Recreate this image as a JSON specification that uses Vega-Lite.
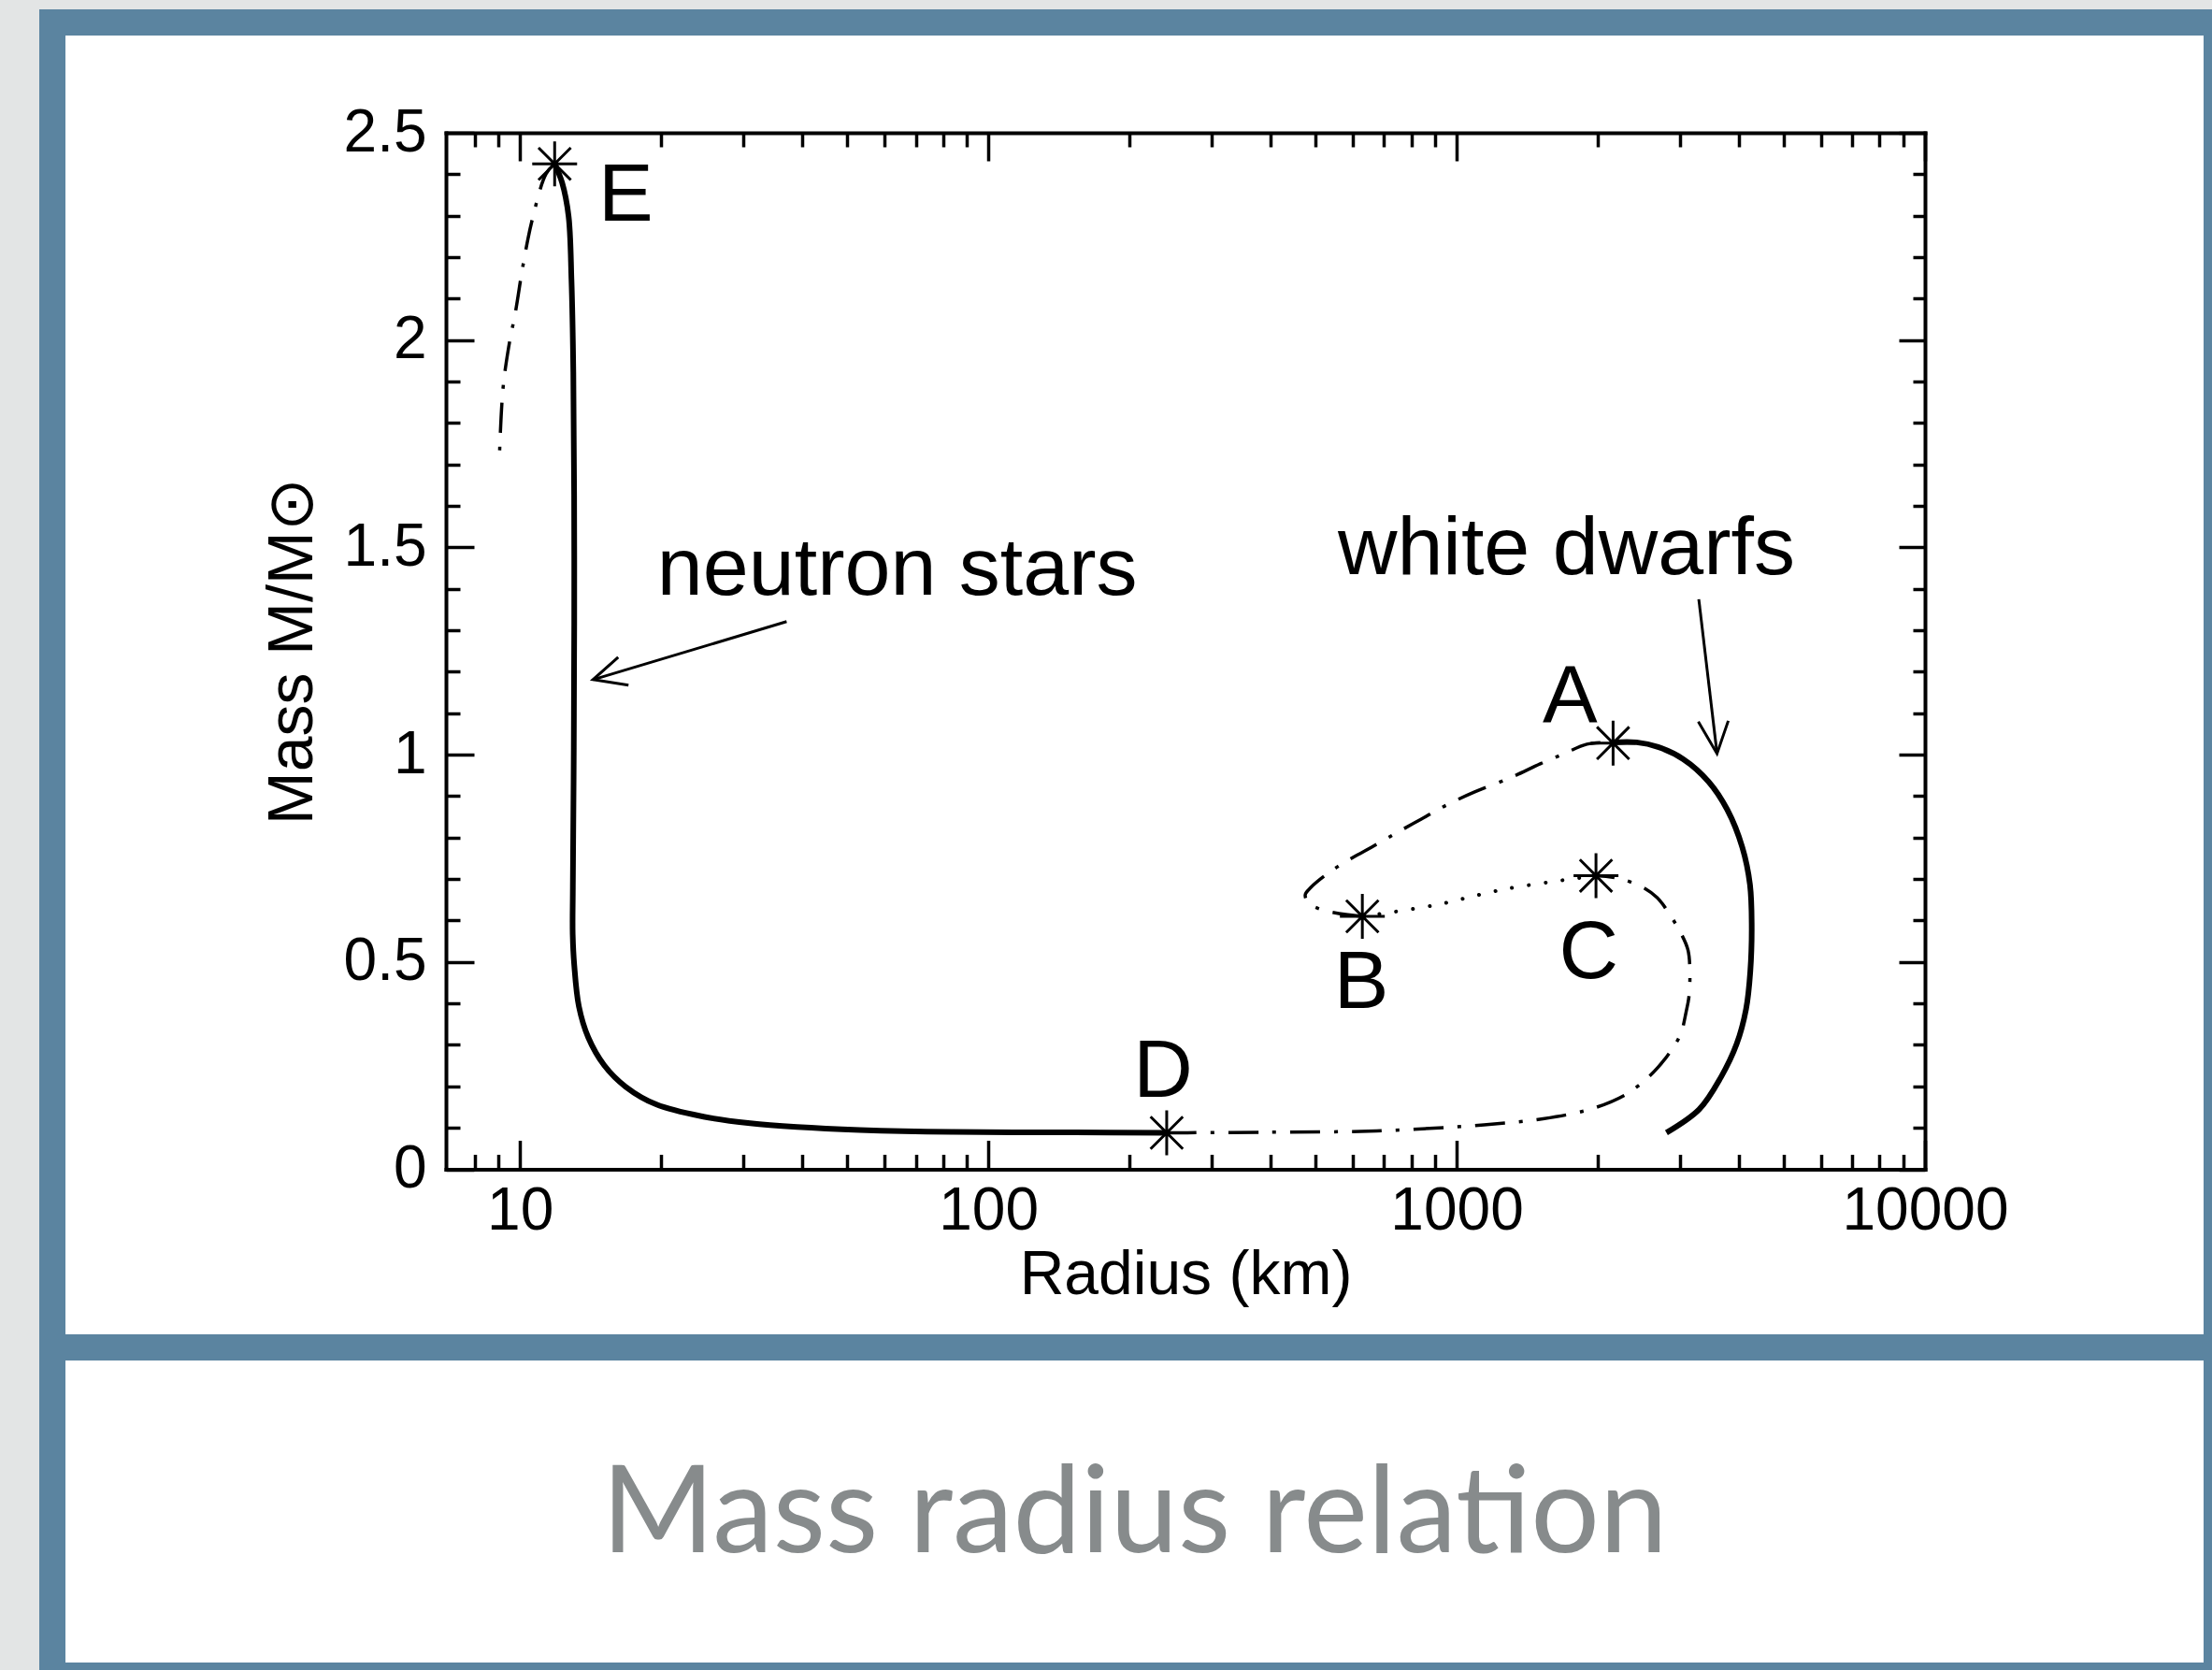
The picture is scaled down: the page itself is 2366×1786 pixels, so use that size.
{
  "$schema": "https://vega.github.io/schema/vega-lite/v6.json",
  "background": "#e3e5e5",
  "padding": {"left": 42, "top": 10, "right": -19, "bottom": -20},
  "autosize": {"type": "pad"},
  "bounds": "flush",
  "spacing": 0,
  "config": {
    "view": {"fill": "white", "stroke": "#5b84a0", "strokeWidth": 28},
    "axis": {"grid": false}
  },
  "datasets": {
    "curve": [
      {"seg": "e1", "kind": "unstable", "i": 0, "R": 11.86, "M": 2.425},
      {"seg": "e1", "kind": "unstable", "i": 1, "R": 11.37, "M": 2.401},
      {"seg": "e1", "kind": "unstable", "i": 2, "R": 10.62, "M": 2.29},
      {"seg": "e1", "kind": "unstable", "i": 3, "R": 10.14, "M": 2.177},
      {"seg": "e1", "kind": "unstable", "i": 4, "R": 9.8, "M": 2.073},
      {"seg": "e1", "kind": "unstable", "i": 5, "R": 9.46, "M": 1.983},
      {"seg": "e1", "kind": "unstable", "i": 6, "R": 9.2, "M": 1.883},
      {"seg": "e1", "kind": "unstable", "i": 7, "R": 9.05, "M": 1.734},
      {"seg": "ns", "kind": "stable", "i": 0, "R": 11.86, "M": 2.425},
      {"seg": "ns", "kind": "stable", "i": 1, "R": 12.3, "M": 2.38},
      {"seg": "ns", "kind": "stable", "i": 2, "R": 12.7, "M": 2.299},
      {"seg": "ns", "kind": "stable", "i": 3, "R": 12.88, "M": 2.148},
      {"seg": "ns", "kind": "stable", "i": 4, "R": 13.0, "M": 1.922},
      {"seg": "ns", "kind": "stable", "i": 5, "R": 13.06, "M": 1.47},
      {"seg": "ns", "kind": "stable", "i": 6, "R": 13.03, "M": 1.018},
      {"seg": "ns", "kind": "stable", "i": 7, "R": 12.97, "M": 0.68},
      {"seg": "ns", "kind": "stable", "i": 8, "R": 12.96, "M": 0.567},
      {"seg": "ns", "kind": "stable", "i": 9, "R": 13.06, "M": 0.492},
      {"seg": "ns", "kind": "stable", "i": 10, "R": 13.36, "M": 0.393},
      {"seg": "ns", "kind": "stable", "i": 11, "R": 13.99, "M": 0.318},
      {"seg": "ns", "kind": "stable", "i": 12, "R": 15.13, "M": 0.251},
      {"seg": "ns", "kind": "stable", "i": 13, "R": 16.82, "M": 0.199},
      {"seg": "ns", "kind": "stable", "i": 14, "R": 19.58, "M": 0.156},
      {"seg": "ns", "kind": "stable", "i": 15, "R": 24.65, "M": 0.127},
      {"seg": "ns", "kind": "stable", "i": 16, "R": 31.01, "M": 0.111},
      {"seg": "ns", "kind": "stable", "i": 17, "R": 39.04, "M": 0.102},
      {"seg": "ns", "kind": "stable", "i": 18, "R": 53.15, "M": 0.095},
      {"seg": "ns", "kind": "stable", "i": 19, "R": 84.2, "M": 0.09},
      {"seg": "ns", "kind": "stable", "i": 20, "R": 153.1, "M": 0.089},
      {"seg": "ns", "kind": "stable", "i": 21, "R": 240.4, "M": 0.088},
      {"seg": "dc", "kind": "unstable", "i": 0, "R": 240.4, "M": 0.088},
      {"seg": "dc", "kind": "unstable", "i": 1, "R": 384.3, "M": 0.0892},
      {"seg": "dc", "kind": "unstable", "i": 2, "R": 673.8, "M": 0.0926},
      {"seg": "dc", "kind": "unstable", "i": 3, "R": 1144, "M": 0.1073},
      {"seg": "dc", "kind": "unstable", "i": 4, "R": 1529, "M": 0.1219},
      {"seg": "dc", "kind": "unstable", "i": 5, "R": 1924, "M": 0.1445},
      {"seg": "dc", "kind": "unstable", "i": 6, "R": 2281, "M": 0.1784},
      {"seg": "dc", "kind": "unstable", "i": 7, "R": 2536, "M": 0.2168},
      {"seg": "dc", "kind": "unstable", "i": 8, "R": 2692, "M": 0.2462},
      {"seg": "dc", "kind": "unstable", "i": 9, "R": 2844, "M": 0.28},
      {"seg": "dc", "kind": "unstable", "i": 10, "R": 3006, "M": 0.3252},
      {"seg": "dc", "kind": "unstable", "i": 11, "R": 3090, "M": 0.3794},
      {"seg": "dc", "kind": "unstable", "i": 12, "R": 3133, "M": 0.4155},
      {"seg": "dc", "kind": "unstable", "i": 13, "R": 3148, "M": 0.4765},
      {"seg": "dc", "kind": "unstable", "i": 14, "R": 3119, "M": 0.5285},
      {"seg": "dc", "kind": "unstable", "i": 15, "R": 3020, "M": 0.5669},
      {"seg": "dc", "kind": "unstable", "i": 16, "R": 2818, "M": 0.6233},
      {"seg": "dc", "kind": "unstable", "i": 17, "R": 2680, "M": 0.6549},
      {"seg": "dc", "kind": "unstable", "i": 18, "R": 2501, "M": 0.6798},
      {"seg": "dc", "kind": "unstable", "i": 19, "R": 2209, "M": 0.7023},
      {"seg": "dc", "kind": "unstable", "i": 20, "R": 1984, "M": 0.708},
      {"seg": "cb", "kind": "metastable", "i": 0, "R": 1984, "M": 0.708},
      {"seg": "cb", "kind": "metastable", "i": 1, "R": 1272, "M": 0.676},
      {"seg": "cb", "kind": "metastable", "i": 2, "R": 892, "M": 0.6364},
      {"seg": "cb", "kind": "metastable", "i": 3, "R": 629, "M": 0.61},
      {"seg": "ba", "kind": "unstable", "i": 0, "R": 629, "M": 0.61},
      {"seg": "ba", "kind": "unstable", "i": 1, "R": 525.7, "M": 0.6233},
      {"seg": "ba", "kind": "unstable", "i": 2, "R": 483.8, "M": 0.6414},
      {"seg": "ba", "kind": "unstable", "i": 3, "R": 475.0, "M": 0.6617},
      {"seg": "ba", "kind": "unstable", "i": 4, "R": 488.4, "M": 0.6798},
      {"seg": "ba", "kind": "unstable", "i": 5, "R": 537.9, "M": 0.7182},
      {"seg": "ba", "kind": "unstable", "i": 6, "R": 600.6, "M": 0.752},
      {"seg": "ba", "kind": "unstable", "i": 7, "R": 658.5, "M": 0.7769},
      {"seg": "ba", "kind": "unstable", "i": 8, "R": 742.3, "M": 0.8108},
      {"seg": "ba", "kind": "unstable", "i": 9, "R": 840.5, "M": 0.8446},
      {"seg": "ba", "kind": "unstable", "i": 10, "R": 951.5, "M": 0.8785},
      {"seg": "ba", "kind": "unstable", "i": 11, "R": 1093, "M": 0.9101},
      {"seg": "ba", "kind": "unstable", "i": 12, "R": 1313, "M": 0.9462},
      {"seg": "ba", "kind": "unstable", "i": 13, "R": 1508, "M": 0.9779},
      {"seg": "ba", "kind": "unstable", "i": 14, "R": 1699, "M": 1.0027},
      {"seg": "ba", "kind": "unstable", "i": 15, "R": 1897, "M": 1.0253},
      {"seg": "ba", "kind": "unstable", "i": 16, "R": 2158, "M": 1.0298},
      {"seg": "wd", "kind": "stable", "i": 0, "R": 2158, "M": 1.0298},
      {"seg": "wd", "kind": "stable", "i": 1, "R": 2422, "M": 1.0298},
      {"seg": "wd", "kind": "stable", "i": 2, "R": 2692, "M": 1.0185},
      {"seg": "wd", "kind": "stable", "i": 3, "R": 3048, "M": 0.9892},
      {"seg": "wd", "kind": "stable", "i": 4, "R": 3451, "M": 0.935},
      {"seg": "wd", "kind": "stable", "i": 5, "R": 3784, "M": 0.8672},
      {"seg": "wd", "kind": "stable", "i": 6, "R": 4073, "M": 0.7769},
      {"seg": "wd", "kind": "stable", "i": 7, "R": 4230, "M": 0.6865},
      {"seg": "wd", "kind": "stable", "i": 8, "R": 4266, "M": 0.5894},
      {"seg": "wd", "kind": "stable", "i": 9, "R": 4236, "M": 0.4765},
      {"seg": "wd", "kind": "stable", "i": 10, "R": 4149, "M": 0.3862},
      {"seg": "wd", "kind": "stable", "i": 11, "R": 3963, "M": 0.3026},
      {"seg": "wd", "kind": "stable", "i": 12, "R": 3664, "M": 0.2213},
      {"seg": "wd", "kind": "stable", "i": 13, "R": 3296, "M": 0.1445},
      {"seg": "wd", "kind": "stable", "i": 14, "R": 2805, "M": 0.0881}
    ],
    "stars": [
      {"point": "A", "R": 2158, "M": 1.028},
      {"point": "B", "R": 629, "M": 0.61},
      {"point": "C", "R": 1984, "M": 0.708},
      {"point": "D", "R": 240.4, "M": 0.088},
      {"point": "E", "R": 11.86, "M": 2.425}
    ],
    "labels": [
      {"label": "E", "R": 16.82, "M": 2.288},
      {"label": "D", "R": 236, "M": 0.1755},
      {"label": "A", "R": 1747, "M": 1.077},
      {"label": "B", "R": 626, "M": 0.39},
      {"label": "C", "R": 1915, "M": 0.461},
      {"label": "neutron stars", "R": 63.9, "M": 1.387},
      {"label": "white dwarfs", "R": 1715, "M": 1.436}
    ],
    "arrows": [
      {"piece": "ns_shaft", "i": 0, "R": 37.1, "M": 1.321},
      {"piece": "ns_shaft", "i": 1, "R": 14.32, "M": 1.181},
      {"piece": "ns_head", "i": 0, "R": 16.21, "M": 1.2353},
      {"piece": "ns_head", "i": 1, "R": 14.32, "M": 1.181},
      {"piece": "ns_head", "i": 2, "R": 17.05, "M": 1.1676},
      {"piece": "wd_shaft", "i": 0, "R": 3289, "M": 1.375},
      {"piece": "wd_shaft", "i": 1, "R": 3597, "M": 1.003},
      {"piece": "wd_head", "i": 0, "R": 3281, "M": 1.0795},
      {"piece": "wd_head", "i": 1, "R": 3597, "M": 1.0027},
      {"piece": "wd_head", "i": 2, "R": 3802, "M": 1.0817}
    ],
    "caption": [{"caption": "Mass radius relation"}]
  },
  "vconcat": [
    {
      "width": 2315,
      "height": 1417,
      "resolve": {"axis": {"x": "independent", "y": "independent"}},
      "layer": [
        {
          "data": {"name": "curve"},
          "transform": [{"filter": "datum.kind === 'stable'"}],
          "mark": {"type": "line", "color": "black", "strokeWidth": 6, "interpolate": "catmull-rom"},
          "encoding": {
            "x": {"field": "R", "type": "quantitative",
              "scale": {"type": "log", "domain": [6.95, 10000], "range": [421, 2003], "nice": false},
              "axis": {
                "orient": "bottom", "offset": -190.5,
                "values": [8, 9, 10, 20, 30, 40, 50, 60, 70, 80, 90, 100, 200, 300, 400, 500, 600, 700, 800, 900, 1000, 2000, 3000, 4000, 5000, 6000, 7000, 8000, 9000, 10000],
                "domain": true, "domainColor": "black", "domainWidth": 4, "domainCap": "square",
                "ticks": true, "tickColor": "black", "tickWidth": 3.5,
                "tickSize": {"condition": {"test": "indexof([10,100,1000,10000], datum.value) >= 0", "value": -31}, "value": -16},
                "labelExpr": "indexof([10,100,1000,10000], datum.value) >= 0 ? format(datum.value, 'd') : ''",
                "labelPadding": 44, "labelFlush": false, "labelOverlap": false, "labelBound": false,
                "labelFont": "Liberation Sans", "labelFontSize": 64, "labelColor": "black",
                "title": "Radius (km)", "titleFont": "Liberation Sans", "titleFontSize": 66, "titleFontWeight": "normal", "titleColor": "black", "titlePadding": -11,
                "grid": false
              }
            },
            "y": {"field": "M", "type": "quantitative",
              "scale": {"domain": [0, 2.5], "range": [1226.5, 118], "nice": false, "zero": false},
              "axis": {
                "orient": "left", "offset": -421,
                "values": [0, 0.1, 0.2, 0.3, 0.4, 0.5, 0.6, 0.7, 0.8, 0.9, 1, 1.1, 1.2, 1.3, 1.4, 1.5, 1.6, 1.7, 1.8, 1.9, 2, 2.1, 2.2, 2.3, 2.4, 2.5],
                "domain": true, "domainColor": "black", "domainWidth": 4, "domainCap": "square",
                "ticks": true, "tickColor": "black", "tickWidth": 3.5,
                "tickSize": {"condition": {"test": "indexof([0,0.5,1,1.5,2,2.5], datum.value) >= 0", "value": -30}, "value": -15},
                "labelExpr": "indexof([0,0.5,1,1.5,2,2.5], datum.value) >= 0 ? format(datum.value, '~g') : ''",
                "labelPadding": 51, "labelFlush": false, "labelOverlap": false, "labelBound": false,
                "labelFont": "Liberation Sans", "labelFontSize": 64, "labelColor": "black",
                "title": "Mass M/M⊙", "titleFont": "Liberation Sans", "titleFontSize": 68, "titleFontWeight": "normal", "titleColor": "black", "titlePadding": 20,
                "grid": false
              }
            },
            "detail": {"field": "seg"},
            "order": {"field": "i", "type": "quantitative"}
          }
        },
        {
          "data": {"name": "curve"},
          "transform": [{"filter": "datum.kind === 'unstable'"}],
          "mark": {"type": "line", "color": "black", "strokeWidth": 3.5, "strokeDash": [32, 15, 4, 15], "interpolate": "catmull-rom"},
          "encoding": {
            "x": {"field": "R", "type": "quantitative", "scale": {"type": "log", "domain": [6.95, 10000], "range": [421, 2003], "nice": false}, "axis": null},
            "y": {"field": "M", "type": "quantitative", "scale": {"domain": [0, 2.5], "range": [1226.5, 118], "nice": false, "zero": false}, "axis": null},
            "detail": {"field": "seg"},
            "order": {"field": "i", "type": "quantitative"}
          }
        },
        {
          "data": {"name": "curve"},
          "transform": [{"filter": "datum.kind === 'metastable'"}],
          "mark": {"type": "line", "color": "black", "strokeWidth": 4, "strokeDash": [0.1, 18], "strokeCap": "round", "interpolate": "catmull-rom"},
          "encoding": {
            "x": {"field": "R", "type": "quantitative", "scale": {"type": "log", "domain": [6.95, 10000], "range": [421, 2003], "nice": false}, "axis": null},
            "y": {"field": "M", "type": "quantitative", "scale": {"domain": [0, 2.5], "range": [1226.5, 118], "nice": false, "zero": false}, "axis": null},
            "detail": {"field": "seg"},
            "order": {"field": "i", "type": "quantitative"}
          }
        },
        {
          "data": {"name": "arrows"},
          "mark": {"type": "line", "color": "black", "strokeWidth": 3},
          "encoding": {
            "x": {"field": "R", "type": "quantitative", "scale": {"type": "log", "domain": [6.95, 10000], "range": [421, 2003], "nice": false}, "axis": null},
            "y": {"field": "M", "type": "quantitative", "scale": {"domain": [0, 2.5], "range": [1226.5, 118], "nice": false, "zero": false}, "axis": null},
            "detail": {"field": "piece"},
            "order": {"field": "i", "type": "quantitative"}
          }
        },
        {
          "data": {"name": "labels"},
          "mark": {"type": "text", "color": "black", "font": "Liberation Sans", "fontSize": 88, "align": "center", "baseline": "alphabetic"},
          "encoding": {
            "x": {"field": "R", "type": "quantitative", "scale": {"type": "log", "domain": [6.95, 10000], "range": [421, 2003], "nice": false}, "axis": null},
            "y": {"field": "M", "type": "quantitative", "scale": {"domain": [0, 2.5], "range": [1226.5, 118], "nice": false, "zero": false}, "axis": null},
            "text": {"field": "label"}
          }
        },
        {
          "data": {"name": "stars"},
          "mark": {"type": "point", "shape": "M0,-1L0,1M-1,0L1,0M-0.72,-0.72L0.72,0.72M-0.72,0.72L0.72,-0.72", "filled": false, "color": "black", "strokeWidth": 3, "size": 2304, "opacity": 1},
          "encoding": {
            "x": {"field": "R", "type": "quantitative",
              "scale": {"type": "log", "domain": [6.95, 10000], "range": [421, 2003], "nice": false},
              "axis": {
                "orient": "top", "offset": -118,
                "values": [8, 9, 10, 20, 30, 40, 50, 60, 70, 80, 90, 100, 200, 300, 400, 500, 600, 700, 800, 900, 1000, 2000, 3000, 4000, 5000, 6000, 7000, 8000, 9000, 10000],
                "domain": true, "domainColor": "black", "domainWidth": 4, "domainCap": "square",
                "ticks": true, "tickColor": "black", "tickWidth": 3.5,
                "tickSize": {"condition": {"test": "indexof([10,100,1000,10000], datum.value) >= 0", "value": -30}, "value": -15},
                "labels": false, "title": null, "grid": false
              }
            },
            "y": {"field": "M", "type": "quantitative",
              "scale": {"domain": [0, 2.5], "range": [1226.5, 118], "nice": false, "zero": false},
              "axis": {
                "orient": "right", "offset": -312,
                "values": [0, 0.1, 0.2, 0.3, 0.4, 0.5, 0.6, 0.7, 0.8, 0.9, 1, 1.1, 1.2, 1.3, 1.4, 1.5, 1.6, 1.7, 1.8, 1.9, 2, 2.1, 2.2, 2.3, 2.4, 2.5],
                "domain": true, "domainColor": "black", "domainWidth": 4, "domainCap": "square",
                "ticks": true, "tickColor": "black", "tickWidth": 3.5,
                "tickSize": {"condition": {"test": "indexof([0,0.5,1,1.5,2,2.5], datum.value) >= 0", "value": -28}, "value": -13},
                "labels": false, "title": null, "grid": false
              }
            }
          }
        }
      ]
    },
    {
      "width": 2315,
      "height": 351,
      "view": {"fill": "white", "stroke": "#5b84a0", "strokeWidth": 28},
      "data": {"name": "caption"},
      "mark": {"type": "text", "font": "Lato", "fontSize": 130, "color": "#878b8c", "baseline": "alphabetic", "align": "center", "dy": 43},
      "encoding": {"text": {"field": "caption"}}
    }
  ]
}
